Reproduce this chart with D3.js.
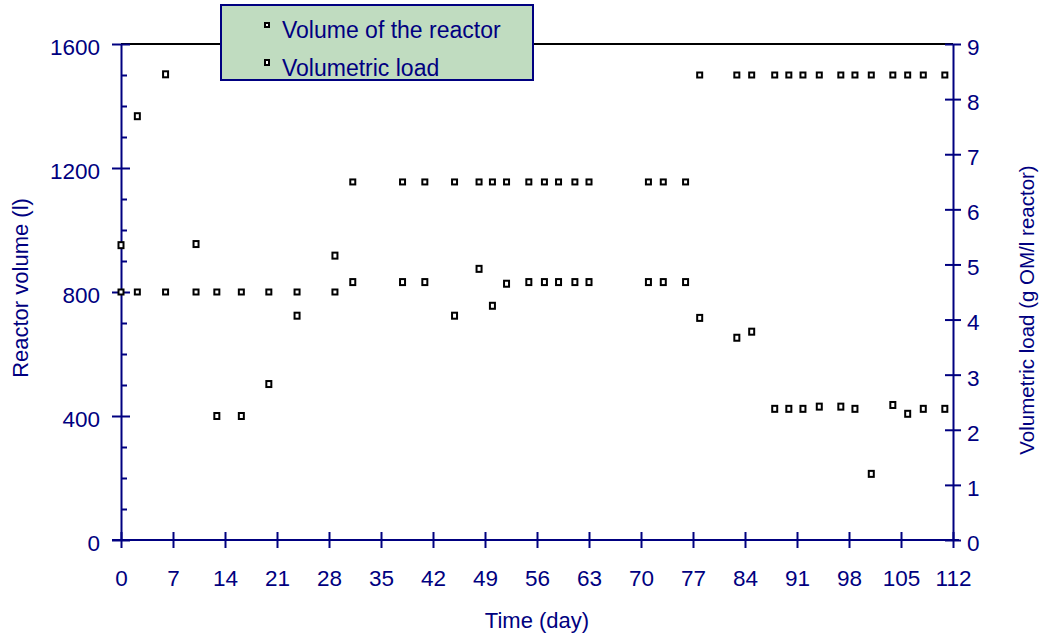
<!DOCTYPE html>
<html>
<head>
<meta charset="utf-8">
<script src="https://cdn.jsdelivr.net/npm/d3@7"></script>
<style>
  body { margin: 0; background: #fff; }
  text { font-family: "Liberation Sans", Arial, sans-serif; fill: #000080; }
</style>
</head>
<body>
<div class="chart"></div>
<script>
// reactor volume (l) on the left axis, volumetric load on the right one
const volumeDays = [0, 2.2, 6, 10.1, 12.9, 16.2, 19.9, 23.7, 28.8,
  31.2, 37.9, 40.9, 44.9, 48.2, 50, 51.9, 54.9, 57, 58.9, 61.1, 63, 71, 73, 76,
  77.9, 82.9, 84.9, 88, 89.9, 91.8, 94, 96.9, 98.8, 101, 103.9, 105.9, 108, 110.9]
const volume = [800, 800, 800, 800, 800, 800, 800, 800, 800,
  1155, 1155, 1155, 1155, 1155, 1155, 1155, 1155, 1155, 1155, 1155, 1155, 1155, 1155, 1155,
  1500, 1500, 1500, 1500, 1500, 1500, 1500, 1500, 1500, 1500, 1500, 1500, 1500, 1500]

const loadDays = volumeDays
const load = [5.35, 7.69, 8.45, 5.37, 2.25, 2.25, 2.83, 4.07, 5.16,
  4.68, 4.68, 4.68, 4.07, 4.92, 4.25, 4.65, 4.68, 4.68, 4.68, 4.68, 4.68, 4.68, 4.68, 4.68,
  4.03, 3.67, 3.78, 2.38, 2.38, 2.38, 2.42, 2.42, 2.38, 1.20, 2.45, 2.29, 2.38, 2.38]

const xTicks = d3.range(0, 113, 7)
const leftTicks = [0, 400, 800, 1200, 1600]
const leftMinor = d3.range(0, 1601, 100).filter(d => d % 400)
const rightTicks = d3.range(0, 10)
const legendLabels = ['Volume of the reactor', 'Volumetric load']

const navy = '#000080'
const margin = { top: 44, right: 92, bottom: 104, left: 121 }
const W = 1045, H = 644
const width = W - margin.left - margin.right
const height = H - margin.top - margin.bottom

const svg = d3.select('.chart')
  .append('svg')
    .attr('width', W)
    .attr('height', H)

const g = svg.append('g')
  .attr('transform', `translate(${margin.left}, ${margin.top})`)

const x = d3.scaleLinear().domain([0, 112]).range([0, width])
const yL = d3.scaleLinear().domain([0, 1600]).range([height, 0])
const yR = d3.scaleLinear().domain([0, 9]).range([height, 0])

// black top frame line
g.append('line')
  .attr('x1', 0).attr('x2', width)
  .attr('y1', 0).attr('y2', 0)
  .style('stroke', '#000').style('stroke-width', 2)

const styleAxis = sel => {
  sel.select('.domain').style('stroke', navy).style('stroke-width', 2)
  sel.selectAll('.tick line').style('stroke', navy).style('stroke-width', 2)
  sel.selectAll('text').style('font-size', '22.5px').style('fill', navy)
}

// left axis: minor ticks inside, major ticks crossing
g.append('g')
  .call(d3.axisLeft(yL).tickValues(leftMinor).tickSize(-6).tickFormat(''))
  .call(s => s.select('.domain').remove())
  .call(s => s.selectAll('.tick line').style('stroke', navy).style('stroke-width', 2))

const leftAxis = g.append('g')
  .call(d3.axisLeft(yL).tickValues(leftTicks).tickFormat(d3.format('d'))
    .tickSize(9).tickSizeOuter(0).tickPadding(12))
  .call(styleAxis)
leftAxis.selectAll('.tick line').attr('x1', 9)
leftAxis.selectAll('.tick text').attr('dy', '0.46em')

const rightAxis = g.append('g')
  .attr('transform', `translate(${width}, 0)`)
  .call(d3.axisRight(yR).tickValues(rightTicks).tickSize(8).tickSizeOuter(0).tickPadding(6))
  .call(styleAxis)
rightAxis.selectAll('.tick line').attr('x1', -8)
rightAxis.selectAll('.tick text').attr('dy', '0.46em')

const xAxis = g.append('g')
  .attr('transform', `translate(0, ${height})`)
  .call(d3.axisBottom(x).tickValues(xTicks).tickSize(8).tickSizeOuter(0).tickPadding(22))
  .call(styleAxis)
xAxis.selectAll('.tick line').attr('y1', -8)
xAxis.select('.domain').attr('d', `M-9,0H${width + 6}`)

// axis titles
svg.append('text')
  .attr('transform', 'translate(28, 288) rotate(-90)')
  .attr('text-anchor', 'middle')
  .style('font-size', '22px')
  .text('Reactor volume (l)')

svg.append('text')
  .attr('transform', 'translate(1034, 310) rotate(-90)')
  .attr('text-anchor', 'middle')
  .style('font-size', '20.5px')
  .text('Volumetric load (g OM/l reactor)')

svg.append('text')
  .attr('x', 537).attr('y', 628)
  .attr('text-anchor', 'middle')
  .style('font-size', '22px')
  .text('Time (day)')

// markers
const volPts = volumeDays.map((d, i) => ({ d, v: volume[i] }))
const loadPts = loadDays.map((d, i) => ({ d, v: load[i] }))

g.append('g').selectAll('rect')
  .data(volPts)
  .join('rect')
    .attr('x', p => x(p.d) - 2.5)
    .attr('y', p => yL(p.v) - 2.5)
    .attr('width', 5).attr('height', 5)
    .style('fill', '#fff').style('stroke', '#000').style('stroke-width', 2)

g.append('g').selectAll('rect')
  .data(loadPts)
  .join('rect')
    .attr('x', p => x(p.d) - 2.5)
    .attr('y', p => yR(p.v) - 3)
    .attr('width', 5).attr('height', 6)
    .style('fill', '#fff').style('stroke', '#000').style('stroke-width', 2)

// legend
const legend = svg.append('g')
legend.append('rect')
  .attr('x', 221).attr('y', 5)
  .attr('width', 312).attr('height', 75)
  .style('fill', '#c0dcc0').style('stroke', navy).style('stroke-width', 2)

legend.selectAll('g.item')
  .data(legendLabels)
  .join('g')
    .attr('class', 'item')
    .attr('transform', (d, i) => `translate(267, ${25 + i * 37.5})`)
  .each(function (d, i) {
    const it = d3.select(this)
    it.append('rect')
      .attr('x', -2).attr('y', i ? -2.5 : -2)
      .attr('width', 4).attr('height', i ? 5 : 4)
      .style('fill', '#fff').style('stroke', '#000').style('stroke-width', 2)
    it.append('text')
      .attr('x', 15).attr('y', 13)
      .style('font-size', '23px')
      .text(d)
  })
</script>
</body>
</html>
